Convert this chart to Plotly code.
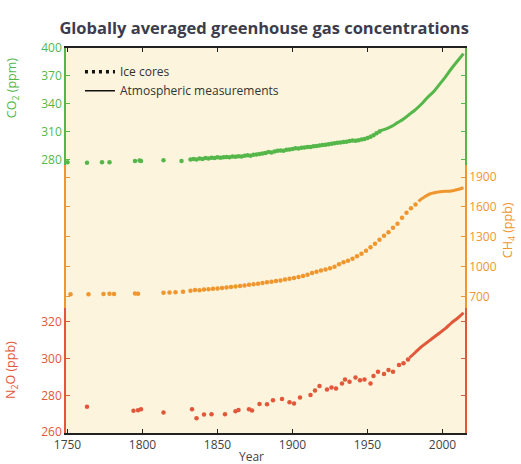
import plotly.graph_objects as go

# ---------------- data ----------------
co2_ice_year = [1750, 1763, 1773, 1778, 1795, 1798, 1799, 1814, 1826,
                1832, 1834, 1836, 1838, 1840, 1842, 1844, 1846, 1848, 1850, 1852, 1854, 1856, 1858,
                1860, 1862, 1864, 1866, 1868, 1870, 1872, 1874, 1876, 1878, 1880, 1882, 1884, 1886,
                1888, 1890, 1892, 1894, 1896, 1898, 1900, 1902, 1904, 1906, 1908, 1910, 1912, 1914,
                1916, 1918, 1920, 1922, 1924, 1926, 1928, 1930, 1932, 1934, 1936, 1938, 1940, 1942,
                1944, 1946, 1948, 1950, 1952, 1954, 1956, 1958]
co2_ice_val = [277.5, 277.0, 277.5, 277.5, 279.0, 279.3, 278.8, 279.6, 279.0,
               280.5, 281.0, 280.5, 281.5, 281.0, 282.0, 281.5, 282.5, 282.0, 282.8, 282.5, 283.0, 283.2, 283.0,
               283.8, 283.5, 284.0, 283.8, 284.5, 285.0, 284.6, 285.5, 285.8, 286.5, 287.0, 287.5, 288.5, 288.0,
               289.2, 289.8, 290.2, 290.0, 291.0, 291.3, 291.8, 292.5, 292.2, 293.0, 293.4, 293.8, 294.0, 294.6,
               295.0, 295.5, 296.0, 296.2, 296.8, 297.4, 297.8, 298.4, 298.8, 299.2, 299.5, 300.2, 300.8, 300.5,
               301.2, 301.8, 302.4, 303.5, 304.8, 306.5, 308.5, 310.5]
co2_atm_year = [1958, 1962, 1966, 1970, 1974, 1978, 1982, 1986, 1990, 1994, 1998, 2002, 2006, 2010, 2014]
co2_atm_val = [311, 313, 316, 320, 324, 329, 334, 340, 347, 353, 361, 369, 378, 386, 394]

ch4_ice_year = [1752, 1764, 1774, 1778, 1781, 1795, 1797, 1814, 1818, 1822, 1827,
                1832, 1835, 1838, 1841, 1844, 1847, 1850, 1853, 1856, 1859, 1862, 1865, 1868, 1871,
                1874, 1877, 1880, 1883, 1886, 1889, 1892, 1895, 1898, 1901, 1904, 1907, 1910, 1913,
                1916, 1919, 1922, 1925, 1928, 1931, 1934, 1937, 1940, 1943, 1946, 1949, 1952, 1955,
                1958, 1961, 1964, 1967, 1970, 1973, 1976, 1979, 1982]
ch4_ice_val = [722, 724, 726, 727, 725, 730, 729, 738, 740, 742, 748,
               758, 765, 762, 770, 772, 778, 780, 786, 790, 796, 800, 806, 810, 818,
               822, 828, 835, 842, 848, 855, 862, 870, 878, 886, 895, 905, 918, 935,
               948, 960, 972, 985, 1000, 1025, 1045, 1060, 1080, 1105, 1130, 1160, 1195, 1230,
               1270, 1310, 1345, 1390, 1430, 1490, 1540, 1585, 1625]
ch4_atm_year = [1984, 1986, 1988, 1990, 1992, 1994, 1996, 1998, 2000, 2002, 2004, 2006, 2008, 2010, 2012, 2014]
ch4_atm_val = [1655, 1680, 1700, 1718, 1732, 1740, 1746, 1752, 1755, 1757, 1758, 1759, 1766, 1774, 1782, 1792]

n2o_ice_year = [1763, 1794, 1797, 1799, 1814, 1833, 1836, 1841, 1846, 1855, 1862, 1864, 1871, 1873,
                1878, 1883, 1887, 1893, 1898, 1901, 1905, 1912, 1915, 1918, 1923, 1926, 1929, 1933,
                1935, 1938, 1942, 1945, 1948, 1952, 1954, 1957, 1961, 1964, 1967, 1971, 1974, 1977]
n2o_ice_val = [273.8, 271.6, 271.9, 272.4, 270.7, 272.5, 267.5, 269.6, 269.7, 269.7, 271.4, 272.0, 272.4, 271.7,
               275.3, 275.1, 277.4, 278.0, 276.2, 275.6, 278.9, 280.2, 282.6, 285.1, 283.2, 284.3, 283.8, 286.5,
               288.7, 287.4, 289.8, 288.3, 288.7, 286.5, 290.5, 292.9, 291.6, 293.8, 292.9, 296.5, 297.5, 299.5]
n2o_atm_year = [1978, 1982, 1986, 1990, 1994, 1998, 2002, 2006, 2010, 2014]
n2o_atm_val = [300.5, 303.5, 306.5, 309.0, 311.5, 314.0, 316.5, 319.5, 322.0, 325.0]

year_ticks = [1750, 1800, 1850, 1900, 1950, 2000]
co2_ticks = [280, 310, 340, 370, 400]
ch4_ticks = [700, 1000, 1300, 1600, 1900]
n2o_ticks = [260, 280, 300, 320]

# ---------------- style ----------------
GREEN = "#55b74a"
ORANGE = "#f0962f"
RED = "#e2573a"
BG = "#fcf4dc"
FONT = "Open Sans"

fig = go.Figure()

fig.add_trace(go.Scatter(x=co2_ice_year, y=co2_ice_val, mode="markers", xaxis="x", yaxis="y",
                         marker=dict(color=GREEN, size=4.5), cliponaxis=False, showlegend=False))
fig.add_trace(go.Scatter(x=co2_atm_year, y=co2_atm_val, mode="lines", xaxis="x", yaxis="y",
                         line=dict(color=GREEN, width=3, shape="spline"), cliponaxis=False, showlegend=False))
fig.add_trace(go.Scatter(x=ch4_ice_year, y=ch4_ice_val, mode="markers", xaxis="x2", yaxis="y2",
                         marker=dict(color=ORANGE, size=4.5), cliponaxis=False, showlegend=False))
fig.add_trace(go.Scatter(x=ch4_atm_year, y=ch4_atm_val, mode="lines", xaxis="x2", yaxis="y2",
                         line=dict(color=ORANGE, width=3, shape="spline"), cliponaxis=False, showlegend=False))
fig.add_trace(go.Scatter(x=n2o_ice_year, y=n2o_ice_val, mode="markers", xaxis="x3", yaxis="y3",
                         marker=dict(color=RED, size=4.5), cliponaxis=False, showlegend=False))
fig.add_trace(go.Scatter(x=n2o_atm_year, y=n2o_atm_val, mode="lines", xaxis="x3", yaxis="y3",
                         line=dict(color=RED, width=3, shape="spline"), cliponaxis=False, showlegend=False))

# legend entries
fig.add_trace(go.Scatter(x=[None], y=[None], mode="lines", name="Ice cores", xaxis="x", yaxis="y",
                         line=dict(color="#111111", width=3.5, dash="3px,4px")))
fig.add_trace(go.Scatter(x=[None], y=[None], mode="lines", name="Atmospheric measurements", xaxis="x", yaxis="y",
                         line=dict(color="#111111", width=1.5)))

d_n2o = [0.0, 0.3247]
d_ch4 = [0.3247, 0.6961]
d_co2 = [0.6961, 1.0]
xr = [1749, 2015]

common_x = dict(range=xr, showgrid=False, zeroline=False, tickvals=year_ticks,
                ticks="inside", ticklen=4, tickcolor="#222222", linecolor="#222222", linewidth=1.5)

def yax(color, rng, ticks, side, dom, anchor):
    return dict(domain=dom, anchor=anchor, range=rng, tickvals=ticks, side=side,
                showgrid=False, zeroline=False, showline=True, linecolor=color, linewidth=1.5,
                mirror="ticks", ticks="inside", ticklen=4, tickcolor=color,
                tickfont=dict(family=FONT, size=12, color=color))

fig.update_layout(
    width=521, height=464,
    margin=dict(l=66, r=56, t=48, b=31),
    paper_bgcolor="white", plot_bgcolor=BG,
    title=dict(text="<b>Globally averaged greenhouse gas concentrations</b>",
               x=0.507, xanchor="center", xref="container", y=0.940, yanchor="middle", yref="container",
               font=dict(family=FONT, size=16.5, color="#3c3c4c")),
    xaxis=dict(anchor="y", side="top", showline=True, showticklabels=False, **common_x),
    xaxis2=dict(anchor="y2", matches="x", range=xr, visible=False),
    xaxis3=dict(anchor="y3", matches="x", side="bottom", showline=True,
                tickfont=dict(family=FONT, size=12, color="#444444"), **common_x),
    yaxis=yax(GREEN, [274.6, 400], co2_ticks, "left", d_co2, "x"),
    yaxis2=yax(ORANGE, [584.8, 2020.5], ch4_ticks, "right", d_ch4, "x2"),
    yaxis3=yax(RED, [259.5, 327.6], n2o_ticks, "left", d_n2o, "x3"),
    legend=dict(x=0.035, y=0.976, xanchor="left", yanchor="top", bgcolor="rgba(0,0,0,0)",
                font=dict(family=FONT, size=12, color="#333333"), itemwidth=30, tracegroupgap=0),
    shapes=[dict(type="rect", xref="paper", yref="paper", x0=0, x1=1, y0=0, y1=1,
                 fillcolor=BG, line=dict(width=0), layer="below")],
    annotations=[
        dict(text="CO<sub>2</sub> (ppm)", xref="paper", yref="paper", x=-0.135, y=0.896, textangle=-90,
             showarrow=False, font=dict(family=FONT, size=12.5, color=GREEN), xanchor="center", yanchor="middle"),
        dict(text="CH<sub>4</sub> (ppb)", xref="paper", yref="paper", x=1.108, y=0.527, textangle=-90,
             showarrow=False, font=dict(family=FONT, size=12.5, color=ORANGE), xanchor="center", yanchor="middle"),
        dict(text="N<sub>2</sub>O (ppb)", xref="paper", yref="paper", x=-0.135, y=0.164, textangle=-90,
             showarrow=False, font=dict(family=FONT, size=12.5, color=RED), xanchor="center", yanchor="middle"),
        dict(text="Year", xref="paper", yref="paper", x=0.466, y=-0.062, showarrow=False,
             font=dict(family=FONT, size=12, color="#444444"), xanchor="center", yanchor="middle"),
    ],
)

# remove the default 8px page margin so the 521x464 figure fills the window exactly
fig.write_html("out.html", config={"displayModeBar": False},
               post_script="document.body.style.margin='0';document.body.style.overflow='hidden';")
